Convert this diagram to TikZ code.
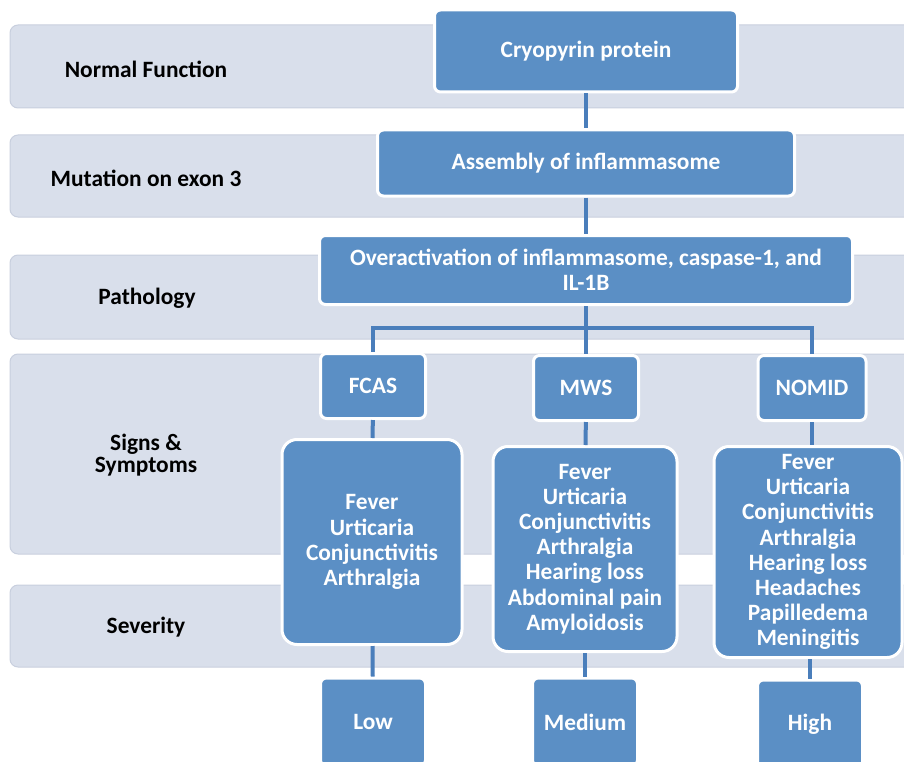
\documentclass[tikz,border=0pt]{standalone}
\usepackage{fontspec}
\setmainfont{Carlito}
\usetikzlibrary{positioning}
\definecolor{bandfill}{RGB}{217,223,235}
\definecolor{bandline}{RGB}{200,207,222}
\definecolor{boxfill}{RGB}{91,143,197}
\definecolor{linkblue}{RGB}{74,126,187}

\begin{document}
\begin{tikzpicture}[x=1pt,y=-1pt]

\tikzset{band/.style={fill=bandfill,draw=bandline,rounded corners=8pt,line width=1pt},
bluenode/.style={font=\bfseries\fontsize{23.4}{25.2}\selectfont,text=white,fill=boxfill,draw=white,line width=3pt,rounded corners=6pt,align=center,inner sep=0pt},
listnode/.style={bluenode,rounded corners=15pt},
rowlabel/.style={font=\bfseries\fontsize{23.4}{22.5}\selectfont,align=center},
link/.style={draw=linkblue,line width=4pt}}

\useasboundingbox (0,0) rectangle (904,762);
\clip (0,0) rectangle (904,762);

% Bands
\draw[band] (10,25) rectangle (930,108);
\draw[band] (10,135) rectangle (930,217);
\draw[band] (10,255) rectangle (930,339);
\draw[band] (10,354) rectangle (930,554);
\draw[band] (10,585) rectangle (930,667);

% Row labels
\node[rowlabel] (lNormal) at (146,69) {Normal Function};
\node[rowlabel] (lMutation) at (146,178) {Mutation on exon 3};
\node[rowlabel] (lPath) at (147,298) {Pathology};
\node[rowlabel] (lSigns) at (146,455) {Signs \&\\Symptoms};
\node[rowlabel] (lSev) at (146,627) {Severity};

% Main chain
\node[bluenode,minimum width=303pt,minimum height=82pt] (cryo) at (586,51) {Cryopyrin protein};
\node[bluenode,minimum width=417pt,minimum height=66pt] (assembly) at (586,163) {Assembly of inflammasome};
\node[bluenode,minimum width=533pt,minimum height=69pt] (over) at (586,270) {Overactivation of inflammasome, caspase-1, and\\IL-1B};

% Syndromes
\node[bluenode,minimum width=105pt,minimum height=65pt] (fcas) at (373,386) {FCAS};
\node[bluenode,minimum width=105pt,minimum height=65pt] (mws) at (586,388) {MWS};
\node[bluenode,minimum width=108pt,minimum height=65pt] (nomid) at (812,388) {NOMID};

% Symptoms
\node[listnode,minimum width=180pt,minimum height=205pt] (symFcas) at (372,542) {Fever\\Urticaria\\Conjunctivitis\\Arthralgia};
\node[listnode,minimum width=184pt,minimum height=205pt] (symMws) at (585,549) {Fever\\Urticaria\\Conjunctivitis\\Arthralgia\\Hearing loss\\Abdominal pain\\Amyloidosis};
\node[listnode,minimum width=188pt,minimum height=211pt] (symNomid) at (808,552) {Fever\\Urticaria\\Conjunctivitis\\Arthralgia\\Hearing loss\\Headaches\\Papilledema\\Meningitis};

% Severity
\node[bluenode,minimum width=105pt,minimum height=88pt] (low) at (373,722) {Low};
\node[bluenode,minimum width=105pt,minimum height=88pt] (medium) at (585,722) {Medium};
\node[bluenode,minimum width=105pt,minimum height=88pt] (high) at (810,724) {High};

% Edges
\draw[link] (cryo) -- (assembly);
\draw[link] (assembly) -- (over);
\draw[link] (over.south) -- ++(0,22) coordinate (split);
\draw[link] (split) -| (fcas);
\draw[link] (split) -| (nomid);
\draw[link] (split) -- (mws);
\draw[link] (fcas) -- (symFcas); \draw[link] (mws) -- (symMws); \draw[link] (nomid.south) -- (nomid.south |- symNomid.north);
\draw[link] (symFcas) -- (low); \draw[link] (symMws) -- (medium); \draw[link] (symNomid.south -| high) -- (high);

\end{tikzpicture}
\end{document}
